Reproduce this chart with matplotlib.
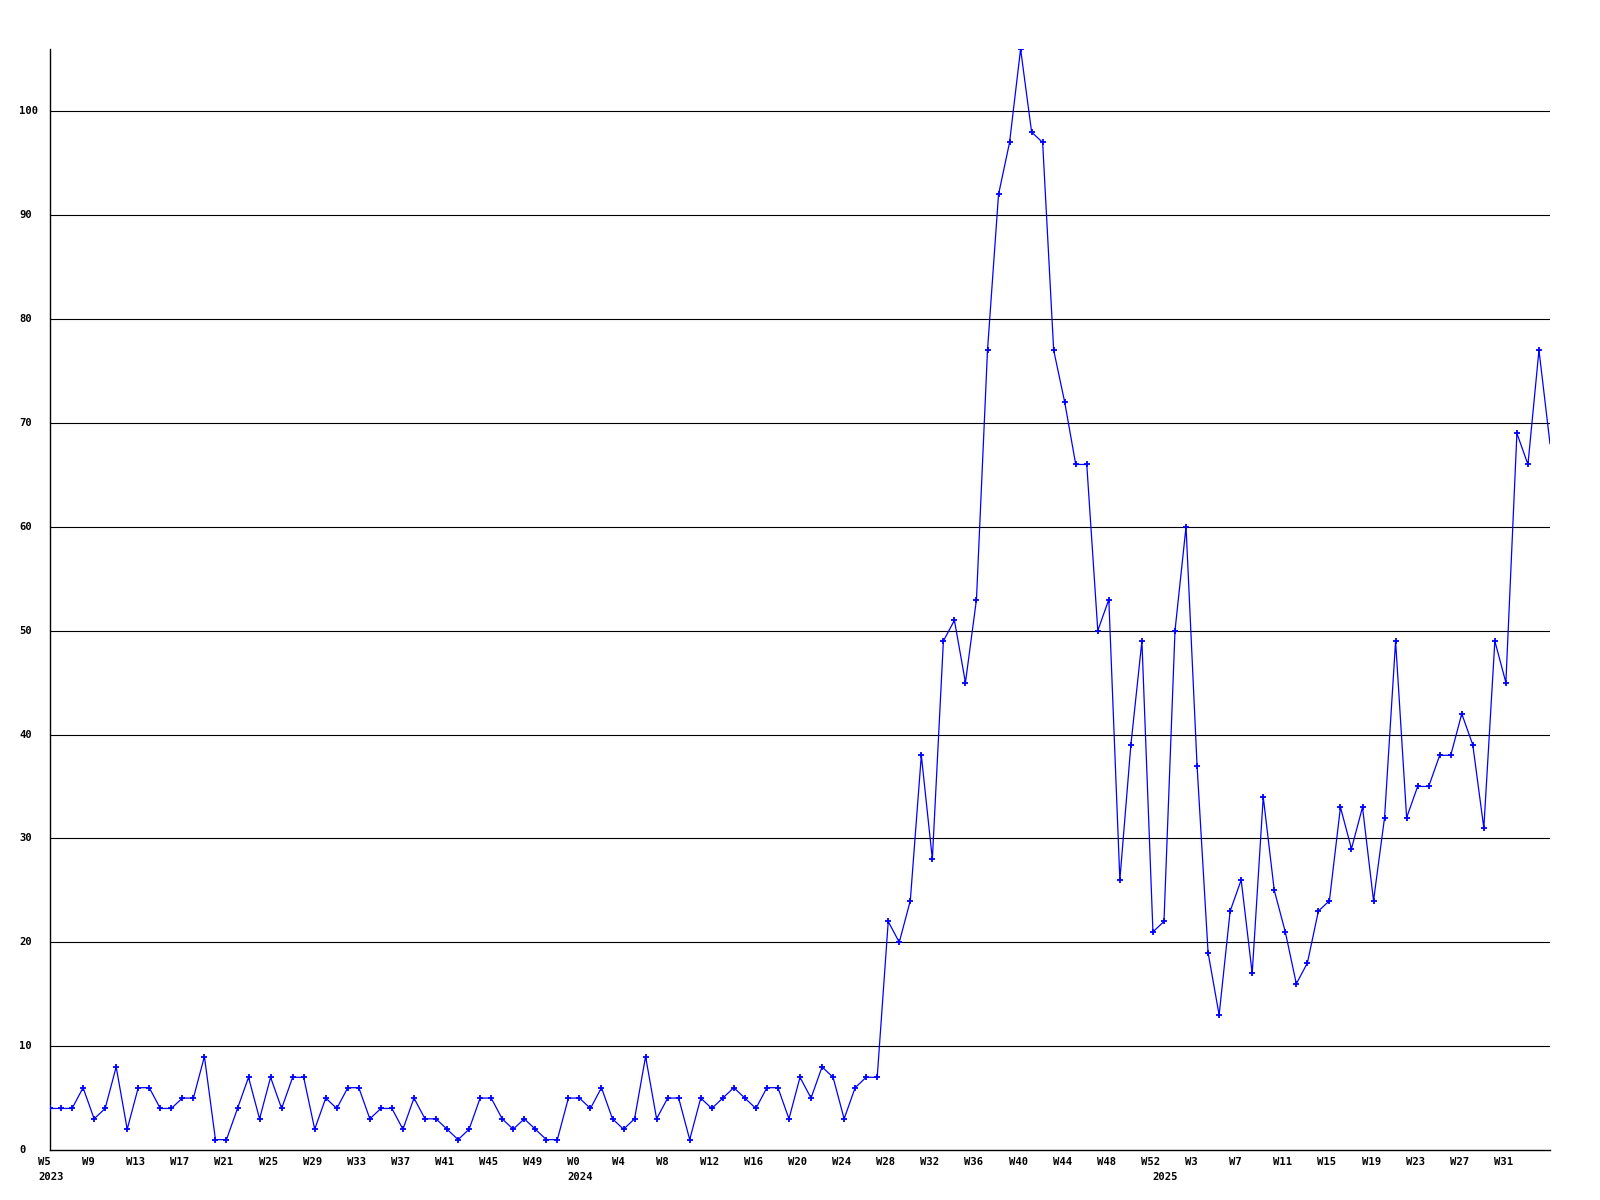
import numpy as np
import matplotlib
matplotlib.use("Agg")
import matplotlib.pyplot as plt

# weekly counts, split by year (week numbers as shown on the axis)
weeks_2023 = list(range(5, 53))
vals_2023 = [4, 4, 4, 6, 3, 4, 8, 2, 6, 6,
             4, 4, 5, 5, 9, 1, 1, 4, 7, 3,
             7, 4, 7, 7, 2, 5, 4, 6, 6, 3,
             4, 4, 2, 5, 3, 3, 2, 1, 2, 5,
             5, 3, 2, 3, 2, 1, 1, 5]
weeks_2024 = list(range(0, 53))
vals_2024 = [5, 4, 6, 3, 2, 3, 9, 3, 5, 5,
             1, 5, 4, 5, 6, 5, 4, 6, 6, 3,
             7, 5, 8, 7, 3, 6, 7, 7, 22, 20,
             24, 38, 28, 49, 51, 45, 53, 77, 92, 97,
             106, 98, 97, 77, 72, 66, 66, 50, 53, 26,
             39, 49, 21]
weeks_2025 = list(range(0, 36))
vals_2025 = [22, 50, 60, 37, 19, 13, 23, 26, 17, 34,
             25, 21, 16, 18, 23, 24, 33, 29, 33, 24,
             32, 49, 32, 35, 35, 38, 38, 42, 39, 31,
             49, 45, 69, 66, 77, 68]
years = ["2023", "2024", "2025"]
y_ticks = list(range(0, 101, 10))

weeks = weeks_2023 + weeks_2024 + weeks_2025
values = vals_2023 + vals_2024 + vals_2025
x = np.arange(len(values))
year_starts = [0, len(vals_2023), len(vals_2023) + len(vals_2024)]

fig = plt.figure(figsize=(16, 12), dpi=100)
ax = fig.add_axes([50 / 1600, 50 / 1200, 1500 / 1600, 1101 / 1200])

for v in y_ticks[1:]:
    ax.axhline(v, color="black", lw=0.8, zorder=1)

ax.plot(x, values, color="#0000ff", lw=0.9, zorder=3)
ax.plot(x[:-1], values[:-1], ls="none", marker="+", ms=4, mew=1.3,
        color="#0000ff", zorder=4)

ax.set_xlim(0, len(values) - 1)
ax.set_ylim(0, max(values))
for s in ["top", "right"]:
    ax.spines[s].set_visible(False)
for s in ["left", "bottom"]:
    ax.spines[s].set_color("black")
    ax.spines[s].set_linewidth(1.0)
ax.set_xticks([])
ax.set_yticks([])

font = dict(family="DejaVu Sans Mono", fontweight="bold", fontsize=7.6)

for i in range(0, 133, 4):
    ax.annotate("W%d" % weeks[i], xy=(i, 0), xycoords=("data", "axes fraction"),
                xytext=(-12, -12), textcoords="offset pixels",
                ha="left", va="center", **font)
for i, yr in zip(year_starts, years):
    ax.annotate(yr, xy=(i, 0), xycoords=("data", "axes fraction"),
                xytext=(-12, -27), textcoords="offset pixels",
                ha="left", va="center", **font)
for v in y_ticks:
    ax.annotate(str(v), xy=(19 / 1600, v), xycoords=("figure fraction", "data"),
                ha="left", va="center", **font)

plt.savefig("out.png", dpi=100)
plt.close()
